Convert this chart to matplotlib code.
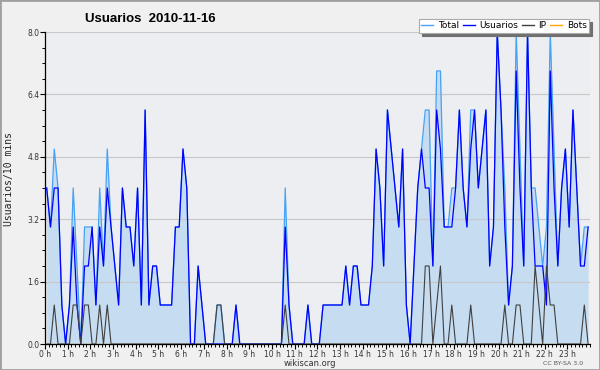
import matplotlib
matplotlib.use('Agg')
import matplotlib.pyplot as plt
from matplotlib.lines import Line2D
from matplotlib.patches import Rectangle
import numpy as np

# ---- data (10-minute bins over one day) ----
hour_labels = [f"{h} h" for h in range(24)]

usuarios = [4, 3, 4, 4, 1, 0, 1, 3, 1, 0, 2, 2, 3, 1, 3, 2, 4, 3, 2, 1, 4, 3, 3, 2,
            4, 1, 6, 1, 2, 2, 1, 1, 1, 1, 3, 3, 5, 4, 0, 0, 2, 1, 0, 0, 0, 0, 0, 0,
            0, 0, 1, 0, 0, 0, 0, 0, 0, 0, 0, 0, 0, 0, 0, 3, 1, 0, 0, 0, 0, 1, 0, 0,
            0, 1, 1, 1, 1, 1, 1, 2, 1, 2, 2, 1, 1, 1, 2, 5, 4, 2, 6, 5, 4, 3, 5, 1,
            0, 2, 4, 5, 4, 4, 2, 6, 5, 3, 3, 3, 4, 6, 4, 3, 5, 6, 4, 5, 6, 2, 3, 8,
            6, 3, 1, 2, 7, 4, 2, 8, 4, 2, 2, 2, 1, 7, 4, 2, 4, 5, 3, 6, 4, 2, 2, 3]

ip = [0, 0, 1, 0, 0, 0, 0, 1, 1, 0, 1, 1, 0, 0, 1, 0, 1, 0, 0, 0, 0, 0, 0, 0,
      0, 0, 0, 0, 0, 0, 0, 0, 0, 0, 0, 0, 0, 0, 0, 0, 0, 0, 0, 0, 0, 1, 1, 0,
      0, 0, 0, 0, 0, 0, 0, 0, 0, 0, 0, 0, 0, 0, 0, 1, 0, 0, 0, 0, 0, 0, 0, 0,
      0, 0, 0, 0, 0, 0, 0, 0, 0, 0, 0, 0, 0, 0, 0, 0, 0, 0, 0, 0, 0, 0, 0, 0,
      0, 0, 0, 0, 2, 2, 0, 1, 2, 0, 0, 1, 0, 0, 0, 0, 1, 0, 0, 0, 0, 0, 0, 0,
      0, 1, 0, 0, 1, 1, 0, 0, 0, 2, 1, 0, 2, 1, 1, 0, 0, 0, 0, 0, 0, 0, 1, 0]

bots = [0] * 144

total = [4, 3, 5, 4, 1, 0, 1, 4, 2, 0, 3, 3, 3, 1, 4, 2, 5, 3, 2, 1, 4, 3, 3, 2,
         4, 1, 6, 1, 2, 2, 1, 1, 1, 1, 3, 3, 5, 4, 0, 0, 2, 1, 0, 0, 0, 1, 1, 0,
         0, 0, 1, 0, 0, 0, 0, 0, 0, 0, 0, 0, 0, 0, 0, 4, 1, 0, 0, 0, 0, 1, 0, 0,
         0, 1, 1, 1, 1, 1, 1, 2, 1, 2, 2, 1, 1, 1, 2, 5, 4, 2, 6, 5, 4, 3, 5, 1,
         0, 2, 4, 5, 6, 6, 2, 7, 7, 3, 3, 4, 4, 6, 4, 3, 6, 6, 4, 5, 6, 2, 3, 8,
         6, 4, 1, 2, 8, 5, 2, 8, 4, 4, 3, 2, 3, 8, 5, 2, 4, 5, 3, 6, 4, 2, 3, 3]

series_labels = ['Total', 'Usuarios', 'IP', 'Bots']
series_colors = ['#45a2f5', '#0000ff', '#404040', '#ffa500']

W, H = 600, 370
x = np.arange(len(total))

fig = plt.figure(figsize=(6, 3.7), dpi=100, facecolor='#f0f0f0')
ax = fig.add_axes([44.8 / W, 1 - 344 / H, (590 - 44.8) / W, 312 / H])
ax.set_facecolor('#eceef1')

ax.fill_between(x, total, 0, color='#c6dcf0', lw=0, zorder=1)
yt = np.arange(0, 8.01, 1.6)
for v in yt[1:]:
    ax.axhline(v, color='#c8c8c8', lw=0.8, zorder=1.5)
ax.plot(x, bots, color=series_colors[3], lw=0.9, zorder=2)
ax.plot(x, total, color=series_colors[0], lw=0.9, zorder=3)
ax.plot(x, usuarios, color=series_colors[1], lw=0.9, zorder=4)
ax.plot(x, ip, color=series_colors[2], lw=0.8, zorder=5)

ax.set_xlim(-0.5, 143.5)
ax.set_ylim(0, 8)

for s in ['top', 'right']:
    ax.spines[s].set_visible(False)
for s in ['left', 'bottom']:
    ax.spines[s].set_color('black')
    ax.spines[s].set_linewidth(0.9)

ax.set_yticks(yt, [f"{v:.1f}" for v in yt])
ax.set_yticks(np.arange(0, 8.01, 0.4), minor=True)
ax.set_xticks([-0.5 + 6 * h for h in range(24)], hour_labels)
ax.set_xticks(np.arange(-0.5, 144, 1), minor=True)
ax.tick_params(which='major', direction='out', length=3.5, width=0.8,
               labelsize=5.5, pad=0.5, colors='black', labelcolor='#333333')
ax.tick_params(which='minor', direction='out', length=2.5, width=0.7)

fig.text(9 / W, 1 - 179 / H, 'Usuarios/10 mins', rotation=90,
         family='DejaVu Sans Mono', size=7, ha='center', va='center', color='#222222')

fig.text(85 / W, 1 - 19 / H, 'Usuarios  2010-11-16', weight='bold', size=9.5,
         family=['Liberation Sans', 'DejaVu Sans'], ha='left', va='center')

fig.text(310 / W, 1 - 363.5 / H, 'wikiscan.org', size=6, color='#333333',
         ha='center', va='center')
fig.text(563 / W, 1 - 363.5 / H, 'CC BY-SA 3.0', size=4.5, color='#555555',
         ha='center', va='center')

handles = [Line2D([], [], color=c, lw=1) for c in series_colors]
leg = fig.legend(handles, series_labels, loc='center',
                 bbox_to_anchor=(504 / W, 1 - 26 / H), ncol=4, fontsize=6.5,
                 frameon=True, fancybox=False,
                 shadow={'color': '#707070', 'alpha': 1},
                 handlelength=1.3, handletextpad=0.5, columnspacing=0.45,
                 borderpad=0.25, borderaxespad=0)
leg.get_frame().set_facecolor('white')
leg.get_frame().set_edgecolor('#aaaaaa')
leg.get_frame().set_linewidth(0.8)
leg.set_zorder(10)

fig.patches.append(Rectangle((0, 0), 1, 1, transform=fig.transFigure, fill=False,
                             edgecolor='#a0a0a0', lw=2))

fig.savefig('out.png', dpi=100, facecolor=fig.get_facecolor())
